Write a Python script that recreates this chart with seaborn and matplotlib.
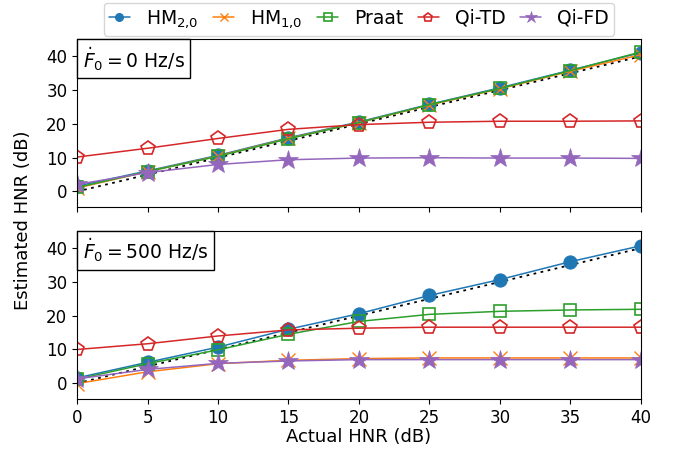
import numpy as np
import pandas as pd
import matplotlib
matplotlib.use("Agg")
import matplotlib.pyplot as plt
from matplotlib.offsetbox import AnchoredText
import seaborn as sns

x = [0, 5, 10, 15, 20, 25, 30, 35, 40]
series = ["HM$_{2{,}0}$", "HM$_{1{,}0}$", "Praat", "Qi-TD", "Qi-FD"]

# F0 rate = 0 Hz/s
top_hm20 = [1.6, 6.1, 10.7, 15.9, 20.6, 25.8, 30.7, 35.9, 41.1]
top_hm10 = [1.0, 5.9, 10.5, 15.7, 20.4, 25.6, 30.4, 35.6, 40.5]
top_praat = [1.2, 5.9, 10.4, 15.6, 20.4, 25.7, 30.5, 35.8, 41.3]
top_qitd = [10.2, 12.8, 15.7, 18.4, 19.8, 20.5, 20.8, 20.8, 20.9]
top_qifd = [2.1, 5.6, 8.0, 9.4, 9.9, 10.0, 9.9, 9.9, 9.8]

# F0 rate = 500 Hz/s
bot_hm20 = [1.6, 6.2, 10.7, 16.0, 20.6, 26.0, 30.7, 36.0, 40.7]
bot_hm10 = [-0.1, 3.4, 5.8, 6.8, 7.3, 7.5, 7.5, 7.5, 7.5]
bot_praat = [1.2, 5.8, 9.9, 14.5, 18.3, 20.4, 21.3, 21.7, 21.9]
bot_qitd = [10.0, 11.7, 14.0, 15.8, 16.3, 16.6, 16.6, 16.6, 16.6]
bot_qifd = [1.3, 4.1, 5.9, 6.6, 7.0, 7.0, 7.0, 7.0, 7.0]

panel_titles = [r"$\dot{F}_0 = 0$ Hz/s", r"$\dot{F}_0 = 500$ Hz/s"]

data = [
    [top_hm20, top_hm10, top_praat, top_qitd, top_qifd],
    [bot_hm20, bot_hm10, bot_praat, bot_qitd, bot_qifd],
]

sns.set_style("ticks", {"axes.edgecolor": "black", "text.color": "black",
                        "xtick.color": "black", "ytick.color": "black",
                        "axes.labelcolor": "black"})
plt.rcParams["font.family"] = ["DejaVu Sans"]
plt.rcParams["mathtext.fontset"] = "dejavusans"

colors = ["#1f77b4", "#ff7f0e", "#2ca02c", "#d62728", "#9467bd"]
styles = [
    dict(marker="o", markersize=9.5),
    dict(marker="x", markersize=10, markeredgewidth=1.0),
    dict(marker="s", markersize=8.5, mfc="none", markeredgewidth=1.2),
    dict(marker="p", markersize=10.5, mfc="none", markeredgewidth=1.2),
    dict(marker="*", markersize=15, markeredgewidth=0.5),
]

fig, axes = plt.subplots(2, 1, figsize=(6.76, 4.5), dpi=100, sharex=True)
fig.subplots_adjust(left=0.114, right=0.948, top=0.913, bottom=0.113, hspace=0.14)

for ax, vals, title in zip(axes, data, panel_titles):
    for name, y, c, st in zip(series, vals, colors, styles):
        sns.lineplot(x=x, y=y, ax=ax, color=c, label=name, linewidth=1.1,
                     mec=c, legend=False, **st)
    ax.plot([0, 40], [0, 40], linestyle=(0, (1.5, 2.5)), color="black", linewidth=1.3, zorder=1)
    ax.set_xlim(0, 40)
    ax.set_ylim(-4.7, 45.1)
    ax.set_yticks([0, 10, 20, 30, 40])
    ax.tick_params(labelsize=12, color="black", labelcolor="black")
    at = AnchoredText(title, loc="upper left", borderpad=0, pad=0.3, frameon=True,
                      prop=dict(fontsize=13.5))
    at.patch.set_boxstyle("square,pad=0")
    at.patch.set_edgecolor("black")
    at.patch.set_linewidth(1)
    ax.add_artist(at)
    for s in ax.spines.values():
        s.set_visible(True)
        s.set_color("black")
    ax.set_ylabel("")
    ax.set_xlabel("")

axes[1].set_xticks(x)
axes[1].set_xlabel("Actual HNR (dB)", fontsize=13, labelpad=1)
fig.text(0.034, 0.51, "Estimated HNR (dB)", rotation=90, fontsize=13, va="center", ha="center")

handles, labels = axes[0].get_legend_handles_labels()
leg = fig.legend(handles, labels, loc="upper center", ncol=5, bbox_to_anchor=(0.531, 0.994),
                 borderaxespad=0, fontsize=13.5, markerscale=0.6, handlelength=1.1,
                 columnspacing=0.8, handletextpad=0.85, frameon=True, fancybox=True,
                 borderpad=0.3)
leg.get_frame().set_edgecolor("0.8")

fig.savefig("out.png", dpi=100)
